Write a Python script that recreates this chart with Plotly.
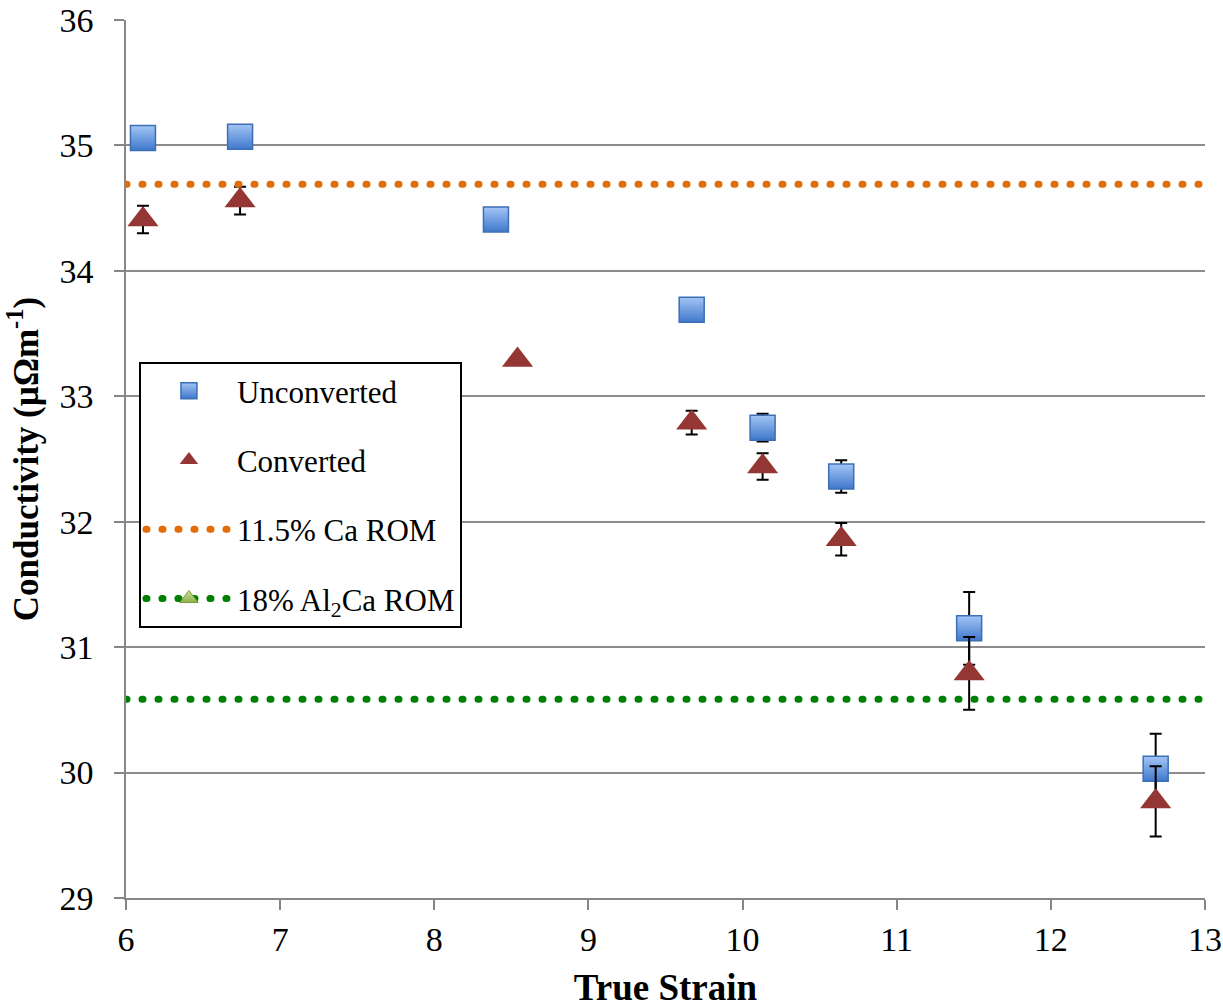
import plotly.graph_objects as go

# ---- data ----
strain_unconv = [6.11, 6.74, 8.40, 9.67, 10.13, 10.64, 11.47, 12.68]
cond_unconv = [35.06, 35.07, 34.41, 33.69, 32.75, 32.36, 31.15, 30.03]
err_unconv = [None, None, None, None, 0.11, 0.13, 0.29, 0.28]

strain_conv = [6.11, 6.74, 8.54, 9.67, 10.13, 10.64, 11.47, 12.68]
cond_conv = [34.41, 34.56, 33.29, 32.79, 32.44, 31.86, 30.79, 29.77]
err_conv = [0.11, 0.11, None, 0.095, 0.105, 0.13, 0.29, 0.28]

rom_x = [6, 13]
rom_ca = [34.69, 34.69]
rom_al2ca = [30.585, 30.585]

x_ticks = [6, 7, 8, 9, 10, 11, 12, 13]
y_ticks = [29, 30, 31, 32, 33, 34, 35, 36]

FONT = "Liberation Serif, Times New Roman, serif"
DOT = "1px,15px"

fig = go.Figure()

fig.add_trace(go.Scatter(
    x=strain_unconv, y=cond_unconv, mode="markers", name="Unconverted",
    legendgroup="a",
    marker=dict(symbol="square", size=25, color="#a3c5f5",
                gradient=dict(type="vertical", color="#4078cc"),
                line=dict(color="#3d6fb5", width=1.5)),
    error_y=dict(type="data", array=err_unconv, color="black", thickness=2, width=6),
))

fig.add_trace(go.Scatter(
    x=strain_conv, y=cond_conv, mode="markers", name="Converted",
    legendgroup="b",
    marker=dict(symbol="triangle-up", size=27, color="#943634",
                line=dict(color="#943634", width=0)),
    error_y=dict(type="data", array=err_conv, color="black", thickness=2, width=6),
))

fig.add_trace(go.Scatter(
    x=rom_x, y=rom_ca, mode="lines", name="11.5% Ca ROM",
    legendgroup="c",
    line=dict(color="#e36c0a", width=7, dash=DOT),
))

fig.add_trace(go.Scatter(
    x=rom_x, y=rom_al2ca, mode="lines", name="18% Al<sub>2</sub>Ca ROM",
    legendgroup="d",
    line=dict(color="#008000", width=7, dash=DOT),
    showlegend=False,
))
# legend entry for the Al2Ca line (line with marker symbol, as in the original)
fig.add_trace(go.Scatter(
    x=[None], y=[None], mode="lines+markers", name="18% Al<sub>2</sub>Ca ROM",
    legendgroup="d",
    line=dict(color="#008000", width=7, dash=DOT),
    marker=dict(symbol="triangle-up", size=16, color="#c9e29a",
                gradient=dict(type="vertical", color="#8fb04a"),
                line=dict(color="#7a9a3a", width=1)),
))

axis_common = dict(
    showline=True, linecolor="#868686", linewidth=1.5,
    ticks="outside", ticklen=10, tickcolor="#868686", tickwidth=1.5,
    tickfont=dict(family=FONT, size=34, color="black"),
    zeroline=False, automargin=False,
)

fig.update_layout(
    width=1223, height=1008,
    margin=dict(l=126, r=18, t=20, b=110),
    plot_bgcolor="white", paper_bgcolor="white",
    font=dict(family=FONT, color="black"),
    xaxis=dict(range=[6, 13], tickvals=x_ticks, showgrid=False,
               title=dict(text="True Strain", standoff=22,
                          font=dict(family=FONT, size=37, weight="bold")),
               **axis_common),
    yaxis=dict(range=[29, 36], tickvals=y_ticks, showgrid=True,
               gridcolor="#8c8c8c", gridwidth=1.5, ticklabelstandoff=14,
               title=dict(text="Conductivity (µΩm<sup>-1</sup>)", standoff=10,
                          font=dict(family=FONT, size=35, weight="bold")),
               **axis_common),
    legend=dict(
        x=0.012, y=0.6105, xanchor="left", yanchor="top",
        bgcolor="white", bordercolor="black", borderwidth=2,
        font=dict(family=FONT, size=31, color="black"),
        traceorder="grouped", tracegroupgap=26, itemwidth=86,
    ),
    showlegend=True,
)

post = """
var s = document.createElement('style');
s.innerHTML = 'html, body { margin: 0; padding: 0; } path.js-line { stroke-linecap: round; }';
document.head.appendChild(s);
"""
fig.write_html("out.html", post_script=post, config={"displayModeBar": False})
